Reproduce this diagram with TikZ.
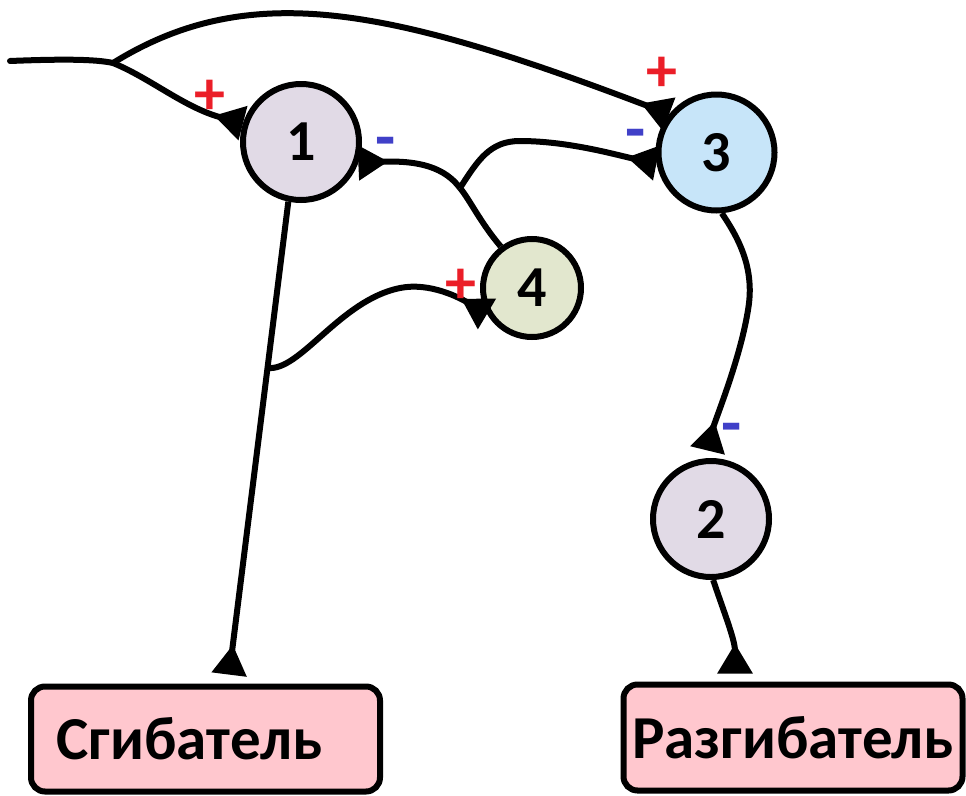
\documentclass[tikz,border=0pt]{standalone}
\usepackage{fontspec}
\setmainfont{Carlito}
\usetikzlibrary{arrows.meta,calc}
\definecolor{lav}{RGB}{225,218,230}
\definecolor{lblue}{RGB}{199,229,249}
\definecolor{lgreen}{RGB}{226,231,206}
\definecolor{boxpink}{RGB}{255,199,206}
\definecolor{sigred}{RGB}{235,30,40}
\definecolor{sigblue}{RGB}{64,64,200}
\begin{document}
\begin{tikzpicture}[x=1pt,y=-1pt,
  neuron/.style={circle, draw, line width=6pt, minimum size=116pt, inner sep=0pt,
    font=\bfseries\fontsize{58}{60}\selectfont},
  musc/.style={draw, rounded corners=14pt, fill=boxpink, line width=6pt, inner sep=0pt,
    font=\bfseries\fontsize{61}{62}\selectfont},
  syn/.style={-{Triangle[reversed,length=30pt,width=34pt]}, line width=6pt},
  plussign/.style={text=sigred, inner sep=0pt, font=\bfseries\fontsize{62}{62}\selectfont},
  minussign/.style={text=sigblue, inner sep=0pt, font=\bfseries\fontsize{66}{66}\selectfont}]
\useasboundingbox (0,0) rectangle (966,795);

% neurons
\node[neuron, fill=lav] (n1) at (301,142) {1};
\node[neuron, fill=lblue] (n3) at (716.5,152.5) {3};
\node[neuron, fill=lgreen, minimum size=98pt] (n4) at (532,288) {4};
\node[neuron, fill=lav] (n2) at (711,519) {2};

% muscles
\node[musc, minimum width=349pt, minimum height=105pt] (bA) at (205.5,739) {Сгибатель\rule{32pt}{0pt}};
\node[musc, minimum width=339pt, minimum height=106pt] (bB) at (793,737.5) {Разгибатель};

% input
\coordinate (in0) at (10,61);
\coordinate (br) at (113,63);
\draw[line width=6pt, line cap=round] (in0) .. controls (60,59) and (95,59) .. (br);
\draw[syn] (br) .. controls (150,78) and (185,108) .. (n1.162);
\draw[syn] (br) .. controls (250,-22) and (390,8) .. (n3.141);

% 4 -> 1 and branch to 3
\coordinate (b2) at (460,188);
\draw[line width=6pt] (n4.127) .. controls (480,222) and (470,200) .. (b2);
\draw[syn] (b2) .. controls (445,168) and (420,160) .. (n1.-20);
\draw[syn] (b2) .. controls (478,160) and (490,141) .. (520,141)
   .. controls (570,141) and (620,156) .. (n3.190);

% 1 -> flexor, branch to 4
\draw[syn, shorten >=9pt] (n1.-102) -- coordinate[pos=0.345] (b3) ([xshift=22.5pt]bA.north);
\draw[syn] (b3) .. controls (300,372) and (340,300) .. (400,288)
   .. controls (430,282) and (460,298) .. (n4.210);

% 3 -> 2 -> extensor
\draw[syn, shorten >=8pt] (n3.-85) .. controls (740,240) and (755,270) .. (748,310)
   .. controls (740,360) and (715,420) .. (n2.95);
\draw[syn, shorten >=8pt] (n2.-88) .. controls (725,615) and (735,640) .. ([xshift=-58pt]bB.north);

% signs
\node[plussign] (p1) at (210,97) {+};
\node[plussign] (p3) at (662,74) {+};
\node[plussign] (p4) at (461,286) {+};
\node[minussign] (m1) at (386,148) {-};
\node[minussign] (m3) at (636,140) {-};
\node[minussign] (m2) at (732,434) {-};
\end{tikzpicture}
\end{document}
